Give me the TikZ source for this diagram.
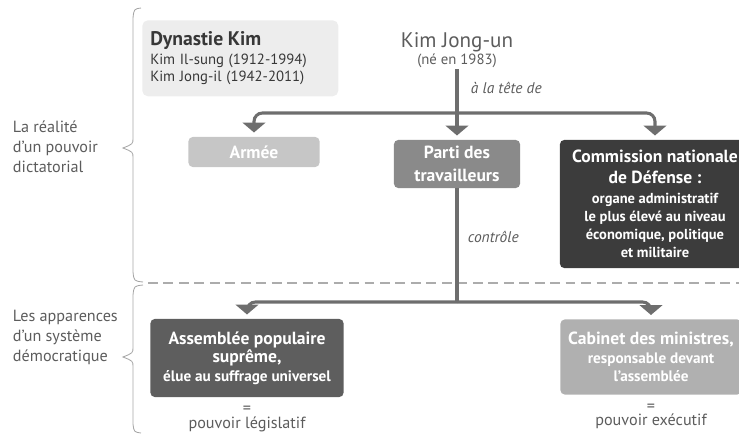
\documentclass[tikz,border=0pt]{standalone}
\usepackage{fontspec}
\setmainfont{PT Sans}
\usetikzlibrary{arrows.meta}
\definecolor{trait}{HTML}{6E6E6E}
\definecolor{gristexte}{HTML}{5C5C5C}
\definecolor{fonddyn}{HTML}{EDEDED}
\definecolor{fondarmee}{HTML}{C6C6C6}
\definecolor{fondparti}{HTML}{8A8A8A}
\definecolor{fondcomm}{HTML}{3C3C3C}
\definecolor{fondass}{HTML}{5E5E5E}
\definecolor{fondcab}{HTML}{B0B0B0}
\begin{document}
\begin{tikzpicture}[x=0.025cm,y=-0.025cm,
    boite/.style={rounded corners=3pt,text=white,font=\bfseries,align=center,inner sep=1pt},
    fleche/.style={draw=trait,line width=2.2pt,rounded corners=6pt,shorten >=3pt,
        -{Triangle[width=16pt,length=7pt]}},
    lien/.style={draw=trait,line width=2.2pt},
    accol/.style={draw=gray!70,line width=0.6pt},
    legende/.style={text=gristexte,font=\fontsize{11.5}{14.2}\selectfont,align=left,anchor=west},
    commentaire/.style={text=gristexte,font=\fontsize{11}{13}\selectfont\itshape,anchor=west}]
    \useasboundingbox (0,0) rectangle (739,434);
    \def\h{113}%ligne du haut
    \def\b{302}%ligne du bas
    \def\grand{\fontsize{12.5}{16}\selectfont}%titres des boites
    \def\petit{\fontsize{10.3}{13}\selectfont}%texte des boites
    % legendes et accolades
    \node[legende] (realite) at (8,147) {La réalité\\d’un pouvoir\\dictatorial};
    \node[legende] (appar) at (8,337) {Les apparences\\d’un système\\démocratique};
    \draw[accol] (141,8) .. controls (134,9) .. (133,18) -- (133,138)
        .. controls (133,144) .. (123,148) .. controls (133,152) .. (133,158)
        -- (133,272) .. controls (134,281) .. (143,282);
    \draw[accol] (143,285) .. controls (134,286) .. (133,295) -- (133,347)
        .. controls (133,353) .. (123,357) .. controls (133,361) .. (133,367)
        -- (133,424) .. controls (134,432) .. (141,433);
    \draw[gray!65,line width=0.8pt,dash pattern=on 7pt off 4pt] (148,283) -- (739,283);
    % haut
    \node[fill=fonddyn,rounded corners=4pt,anchor=north west,minimum width=4.9cm,
        minimum height=1.9cm,text width=4.5cm,align=left,text=gristexte!60!black] (dyn) at (142,20)
        {{\fontsize{14}{20}\selectfont\bfseries Dynastie Kim}\\[-1pt]
        \fontsize{10.5}{14.5}\selectfont Kim Il-sung (1912-1994)\\Kim Jong-il (1942-2011)};
    \node[text=gristexte,align=center,inner sep=1pt] (kju) at (457,50)
        {\fontsize{15}{15}\selectfont Kim Jong-un\\\fontsize{10.5}{12}\selectfont (né en 1983)};
    \node[boite,fill=fondarmee,minimum width=3.275cm,minimum height=0.75cm,
        font=\fontsize{12.5}{14}\selectfont\bfseries] (armee) at (254,152) {Armée};
    \node[boite,fill=fondparti,minimum width=3.15cm,minimum height=1.2cm,
        font=\fontsize{12.5}{16}\selectfont\bfseries] (parti) at (457,164) {Parti des\\travailleurs};
    \node[boite,fill=fondcomm,minimum width=4.75cm,minimum height=3.2cm] (comm) at (655,204)
        {\grand Commission nationale\\[3pt]\grand de Défense :\\[2pt]
        \petit organe administratif\\[1pt]\petit le plus élevé au niveau\\[1pt]
        \petit économique, politique\\[1pt]\petit et militaire};
    \coordinate (jhaut) at (457,\h);
    \draw[fleche] (kju) -- (parti);
    \foreach \n in {armee,comm} \draw[fleche] (jhaut) -| (\n);
    \node[commentaire] (tete) at (466,88) {à la tête de};
    \node[commentaire] (ctrl) at (463,237) {contrôle};
    % bas
    \node[boite,fill=fondass,minimum width=4.825cm,minimum height=1.95cm] (ass) at (247,358)
        {\grand Assemblée populaire\\[1pt]\grand suprême,\\[1pt]
        \fontsize{10.8}{14}\selectfont élue au suffrage universel};
    \node[boite,fill=fondcab,minimum width=4.525cm,minimum height=1.875cm] (cab) at (651,357)
        {\grand Cabinet des ministres,\\[1pt]
        \fontsize{10.8}{14.5}\selectfont responsable devant\\[1pt]\fontsize{10.8}{14.5}\selectfont l’assemblée};
    \coordinate (jbas) at (457,\b);
    \draw[lien] (parti) -- (jbas);
    \foreach \n in {ass,cab} \draw[fleche] (jbas) -| (\n);
    \path[text=gristexte,font=\fontsize{11.5}{12}\selectfont]
        foreach \n/\t in {ass/législatif,cab/exécutif} {
            (\n.south) ++(0,13) node (eg\n) {=}
            (eg\n) ++(0,14) node (pv\n) {pouvoir \t}};
\end{tikzpicture}
\end{document}
